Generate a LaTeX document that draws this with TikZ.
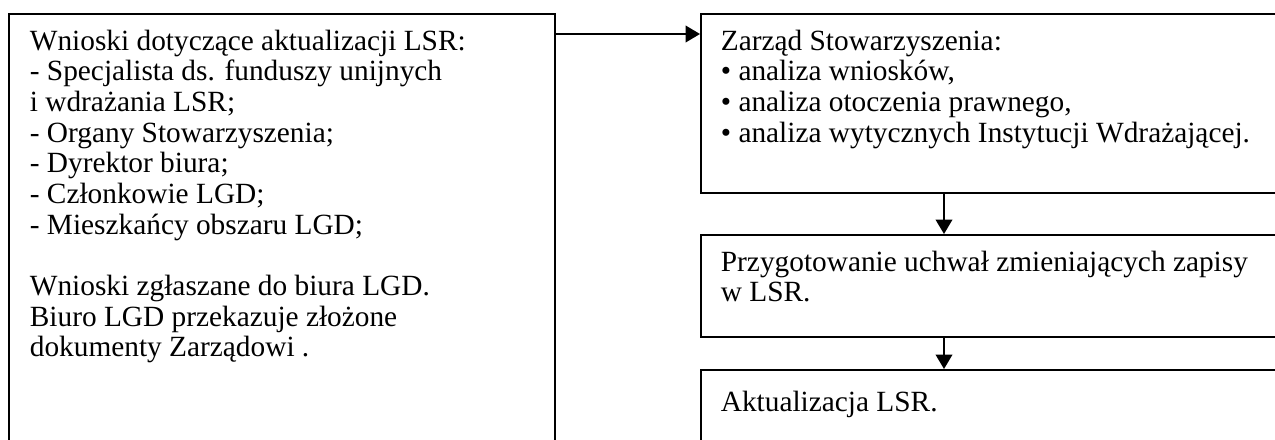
\documentclass[tikz,border=0pt]{standalone}
\usepackage{fontspec}
\setmainfont{Liberation Serif}
\usetikzlibrary{arrows.meta,positioning,calc}

\begin{document}
\begin{tikzpicture}[
    x=0.45pt, y=-0.45pt,
    line width=0.8pt,
    flowbox/.style={draw, anchor=north west, inner sep=0pt},
    flowtext/.style={anchor=north west, align=left, inner sep=0pt, font=\fontsize{13.2pt}{13.8pt}\selectfont},
    >={Triangle[length=6.5pt,width=7.5pt]}
  ]
    \useasboundingbox (0,0) rectangle (1275,439);
    \clip (0,0) rectangle (1275,439);
    % boxes (right and bottom edges run off the page)
    \node[flowbox, minimum width=245.7pt, minimum height=205.6pt] (wnioski) at (8,13) {};
    \node[flowbox, minimum width=265.5pt, minimum height=80.5pt] (zarzad) at (700,13) {};
    \node[flowbox, minimum width=265.5pt, minimum height=45.9pt] (uchwaly) at (700,234) {};
    \node[flowbox, minimum width=265.5pt, minimum height=45.5pt] (aktual) at (700,369) {};
    % texts
    \node[flowtext] (wnioskitxt) at ($(wnioski.north west)+(21,16)$) {Wnioski dotyczące aktualizacji LSR:\\
      - Specjalista ds. funduszy unijnych\\
      i wdrażania LSR;\\
      - Organy Stowarzyszenia;\\
      - Dyrektor biura;\\
      - Członkowie LGD;\\
      - Mieszkańcy obszaru LGD;\\[13.8pt]
      Wnioski zgłaszane do biura LGD.\\
      Biuro LGD przekazuje złożone\\
      dokumenty Zarządowi .};
    \node[flowtext] (zarzadtxt) at ($(zarzad.north west)+(20,16)$) {Zarząd Stowarzyszenia:\\
      • analiza wniosków,\\
      • analiza otoczenia prawnego,\\
      • analiza wytycznych Instytucji Wdrażającej.};
    \node[flowtext] (uchwalytxt) at ($(uchwaly.north west)+(20,16)$) {Przygotowanie uchwał zmieniających zapisy\\
      w LSR.};
    \node[flowtext] (aktualtxt) at ($(aktual.north west)+(20,21)$) {Aktualizacja LSR.};
    % connectors
    \draw[->] ([yshift=-21*0.45pt]wnioski.north east) -- ([yshift=-21*0.45pt]zarzad.north west);
    \draw[->] ([xshift=244*0.45pt]zarzad.south west) -- ([xshift=244*0.45pt]uchwaly.north west);
    \draw[->] ([xshift=244*0.45pt]uchwaly.south west) -- ([xshift=244*0.45pt]aktual.north west);
  \end{tikzpicture}
\end{document}
